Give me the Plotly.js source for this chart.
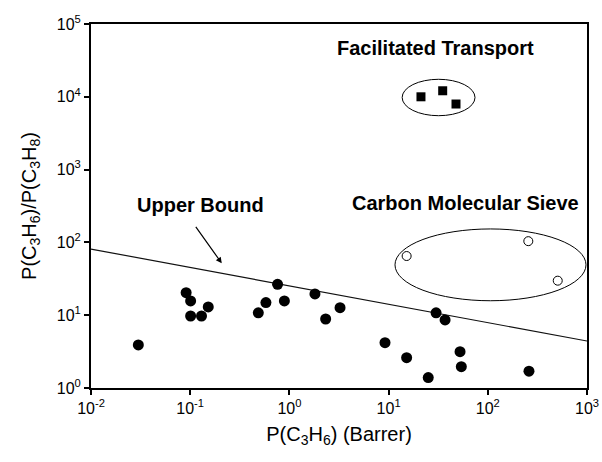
<!DOCTYPE html>
<html>
<head>
<meta charset="utf-8">
<script src="https://cdn.plot.ly/plotly-3.0.1.min.js"></script>
<style>
  html, body { margin: 0; padding: 0; background: #fff; }
  #chart { width: 602px; height: 462px; }
</style>
</head>
<body>
<div id="chart"></div>
<script>
// Polymer membranes: propylene permeability vs. propylene/propane selectivity
const polymerPerm = [0.030, 0.091, 0.101, 0.101, 0.130, 0.152, 0.486, 0.58, 0.76, 0.89,
                     1.81, 2.32, 3.24, 9.2, 15.2, 25.1, 30.1, 37.1, 52.5, 54.1, 260];
const polymerSel  = [3.9, 20.4, 15.7, 9.75, 9.75, 13.0, 10.8, 14.9, 26.6, 15.7,
                     19.6, 8.87, 12.7, 4.19, 2.61, 1.39, 10.8, 8.6, 3.15, 1.96, 1.70];

// Carbon molecular sieve membranes
const cmsPerm = [15.2, 256, 507];
const cmsSel  = [65, 104, 29.8];

// Facilitated transport membranes
const ftPerm = [21.2, 35.1, 47.8];
const ftSel  = [10000, 12100, 7960];

// Upper bound trade-off line
const boundPerm = [0.01, 1000];
const boundSel  = [81, 4.42];

// Group outlines (permeability range, selectivity range)
const ftGroupPerm  = [13.7, 74.3];
const ftGroupSel   = [5500, 17400];
const cmsGroupPerm = [11.6, 977];
const cmsGroupSel  = [15.8, 153];

// Axis ticks
const xTickVals = [0.01, 0.1, 1, 10, 100, 1000];
const xTickText = ['10<sup>-2</sup>', '10<sup>-1</sup>', '10<sup>0</sup>', '10<sup>1</sup>', '10<sup>2</sup>', '10<sup>3</sup>'];
const yTickVals = [1, 10, 100, 1000, 10000, 100000];
const yTickText = ['10<sup>0</sup>', '10<sup>1</sup>', '10<sup>2</sup>', '10<sup>3</sup>', '10<sup>4</sup>', '10<sup>5</sup>'];

const FONT = 'Arial, "Liberation Sans", Helvetica, sans-serif';

const traces = [
  {
    x: boundPerm, y: boundSel, mode: 'lines', type: 'scatter',
    line: { color: '#111', width: 1.2 }, hoverinfo: 'skip'
  },
  {
    x: polymerPerm, y: polymerSel, mode: 'markers', type: 'scatter',
    marker: { symbol: 'circle', size: 11, color: '#000' }
  },
  {
    x: cmsPerm, y: cmsSel, mode: 'markers', type: 'scatter',
    marker: { symbol: 'circle-open', size: 9, color: '#000', line: { width: 1 } }
  },
  {
    x: ftPerm, y: ftSel, mode: 'markers', type: 'scatter',
    marker: { symbol: 'square', size: 9, color: '#000' }
  }
];

const axisCommon = {
  type: 'log',
  showgrid: false, zeroline: false,
  showline: true, linecolor: '#000', linewidth: 2, mirror: true,
  ticks: 'outside', ticklen: 5, tickwidth: 2, tickcolor: '#000',
  tickmode: 'array',
  tickfont: { family: FONT, size: 16, color: '#000' }
};

const layout = {
  width: 602, height: 462,
  margin: { l: 91, r: 15, t: 24, b: 74 },
  paper_bgcolor: '#fff', plot_bgcolor: '#fff',
  showlegend: false,
  font: { family: FONT, color: '#000' },
  xaxis: Object.assign({}, axisCommon, {
    range: [-2, 3], tickvals: xTickVals, ticktext: xTickText,
    title: { text: 'P(C<sub>3</sub>H<sub>6</sub>) (Barrer)', font: { family: FONT, size: 20 }, standoff: 11 }
  }),
  yaxis: Object.assign({}, axisCommon, {
    range: [0, 5], tickvals: yTickVals, ticktext: yTickText,
    title: { text: 'P(C<sub>3</sub>H<sub>6</sub>)/P(C<sub>3</sub>H<sub>8</sub>)', font: { family: FONT, size: 20 }, standoff: 15 }
  }),
  shapes: [
    { type: 'circle', xref: 'x', yref: 'y',
      x0: ftGroupPerm[0], x1: ftGroupPerm[1], y0: ftGroupSel[0], y1: ftGroupSel[1],
      line: { color: '#000', width: 1 } },
    { type: 'circle', xref: 'x', yref: 'y',
      x0: cmsGroupPerm[0], x1: cmsGroupPerm[1], y0: cmsGroupSel[0], y1: cmsGroupSel[1],
      line: { color: '#000', width: 1 } }
  ],
  annotations: [
    { xref: 'x', yref: 'y', x: 1.468, y: 4.67, text: '<b>Facilitated Transport</b>',
      showarrow: false, font: { family: FONT, size: 20, color: '#000' } },
    { xref: 'x', yref: 'y', x: 1.775, y: 2.541, text: '<b>Carbon Molecular Sieve</b>',
      showarrow: false, font: { family: FONT, size: 20, color: '#000' } },
    { xref: 'x', yref: 'y', x: -0.901, y: 2.514, text: '<b>Upper Bound</b>',
      showarrow: false, font: { family: FONT, size: 20, color: '#000' } },
    { xref: 'x', yref: 'y', x: -0.682, y: 1.713, text: '',
      showarrow: true, arrowhead: 2, arrowsize: 1, arrowwidth: 1.2, arrowcolor: '#000',
      ax: -27, ay: -38 }
  ]
};

Plotly.newPlot('chart', traces, layout, { displayModeBar: false, staticPlot: true });
</script>
</body>
</html>
